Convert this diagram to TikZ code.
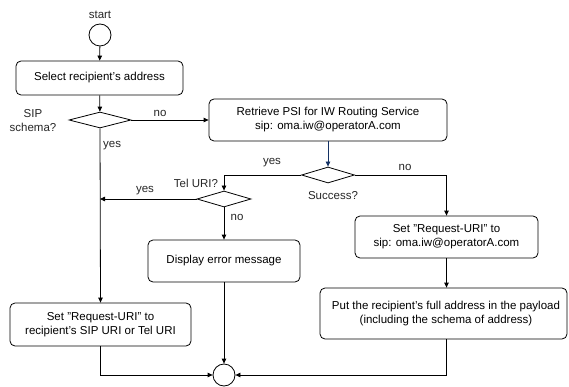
\documentclass[tikz,border=0pt]{standalone}
\usepackage{fontspec}
\setmainfont{Liberation Sans}
\usetikzlibrary{shapes.geometric,arrows.meta}
\definecolor{flowblue}{RGB}{20,50,100}
\newcommand{\dq}{\symbol{34}}
\tikzset{
  every node/.style={font=\fontsize{11.5}{14}\selectfont, inner sep=0pt},
  stepbox/.style={draw, rounded corners=5pt, align=center, line width=0.8pt},
  decision/.style={draw, diamond, line width=0.8pt, inner sep=0pt},
  terminal/.style={draw, circle, line width=0.8pt, minimum size=22pt},
  flow/.style={line width=0.8pt, -{Triangle[length=5pt,width=4.5pt]}},
  lbl/.style={text=black!85}
}
\begin{document}
\begin{tikzpicture}[x=1pt,y=-1pt]
\useasboundingbox (0,0) rectangle (569,387);

% start and end terminals
\node[terminal] (start) at (100,35) {};
\node[lbl] (startlbl) at (100,15) {start};
\node[terminal] (finish) at (224,375) {};

% activity boxes
\node[stepbox, minimum width=167pt, minimum height=34pt] (select) at (99.5,78) {Select recipient's address};
\node[stepbox, minimum width=238pt, minimum height=42pt] (retrieve) at (328,120)
  {Retrieve PSI for IW Routing Service\\sip: oma.iw@operatorA.com};
\node[stepbox, minimum width=152pt, minimum height=42pt] (display) at (224,261) {Display error message};
\node[stepbox, minimum width=181pt, minimum height=43pt] (setleft) at (100.5,324.5)
  {Set \dq Request-URI\dq\ to\\recipient's SIP URI or Tel URI};
\node[stepbox, minimum width=183pt, minimum height=42pt] (setright) at (446.5,237)
  {Set \dq Request-URI\dq\ to\\sip: oma.iw@operatorA.com};
\node[stepbox, minimum width=247pt, minimum height=51pt] (payload) at (443.5,313.5)
  {\hspace*{5pt}Put the recipient's full address in the payload\\\hspace*{5pt}(including the schema of address)};

% decisions
\node[decision, minimum width=62pt, minimum height=16pt] (sip) at (100,120) {};
\node[lbl, align=center] (siplbl) at (33,121) {SIP\\schema?};
\node[decision, minimum width=53pt, minimum height=16pt] (success) at (328,175) {};
\node[lbl] (successlbl) at (333,196) {Success?};
\node[decision, minimum width=54pt, minimum height=16pt] (tel) at (224,199) {};
\node[lbl] (tellbl) at (196,183) {Tel URI?};

% connectors
\draw[flow] (start) -- (select);
\draw[flow] (select) -- (sip);
\draw[flow] (sip.east) -- (retrieve.west);
\node[lbl] (sipno) at (160,113) {no};
\draw[flow, draw=flowblue] (retrieve) -- (success);
\draw[flow] (success.west) -| (tel.north);
\node[lbl] (succyes) at (272,163) {yes};
\draw[flow] (success.east) -| (setright.north);
\node[lbl] (succno) at (405,167) {no};
\draw[flow] (tel.west) -- (sip.south |- tel.west);
\node[lbl] (telyes) at (145,191) {yes};
\draw[flow] (tel.south) -- (display.north);
\node[lbl] (telno) at (237,217) {no};
\draw[flow] (sip.south) -- (setleft.north);
\node[lbl, anchor=west] (sipyes) at (103,146) {yes};
\draw[flow] (setright.south) -- (setright.south |- payload.north);
\draw[flow] (setleft.south) |- (finish.west);
\draw[flow] (display.south) -- (finish.north);
\draw[flow] (payload.south -| setright.south) |- (finish.east);
\end{tikzpicture}
\end{document}
